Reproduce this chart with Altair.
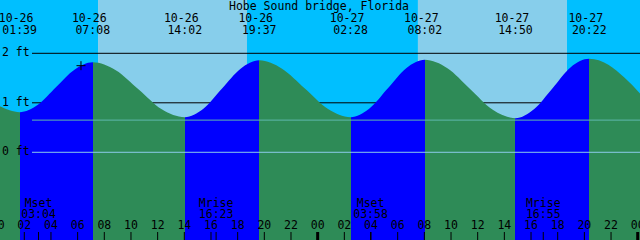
import altair as alt
import pandas as pd

# ---------------- data ----------------
T0, T1 = 0.178, 48.172          # visible time window, hours after 10-26 00:00
Y0, Y1 = -1.772, 3.077          # visible level window, ft

title_text = "Hobe Sound bridge, Florida"

# tide curve samples (hours after 10-26 00:00, feet)
tide_hours = [0.178, 0.90, 1.65, 3.02, 4.39, 5.76, 7.13, 8.86, 10.58, 12.31,
              14.03, 15.43, 16.83, 18.22, 19.62, 21.33, 23.04, 24.75, 26.47,
              27.86, 29.25, 30.64, 32.03, 33.73, 35.43, 37.13, 38.83, 40.22,
              41.60, 42.98, 44.37, 45.80, 47.00, 48.172]
tide_ft = [0.93, 0.85, 0.81, 0.96, 1.32, 1.67, 1.82, 1.66, 1.27, 0.87,
           0.71, 0.88, 1.29, 1.69, 1.86, 1.69, 1.29, 0.88, 0.71,
           0.88, 1.29, 1.70, 1.87, 1.70, 1.28, 0.86, 0.69, 0.87,
           1.29, 1.72, 1.89, 1.77, 1.51, 1.19]

# high / low tide events
event_dates = ["10-26", "10-26", "10-26", "10-26", "10-27", "10-27", "10-27", "10-27"]
event_times = ["01:39", "07:08", "14:02", "19:37", "02:28", "08:02", "14:50", "20:22"]
event_days = [0, 0, 0, 0, 1, 1, 1, 1]
event_kind = ["low", "high", "low", "high", "low", "high", "low", "high"]

# sunrise / sunset (hours) -> sky bands
sun_edges = [T0, 7.53, 18.70, 31.52, 42.69, T1]
sun_state = ["night", "day", "night", "day", "night"]

# moon events
moon_names = ["Mset", "Mrise", "Mset", "Mrise"]
moon_times = ["03:04", "16:23", "03:58", "16:55"]
moon_days = [0, 0, 1, 1]

grid_ft = [1, 2]
datum_ft = [0]
mean_ft = [0.65]
ylabel_ft = [0, 1, 2]
ylabel_txt = ["0 ft", "1 ft", "2 ft"]

hour_ticks = list(range(0, 49, 2))
now_hour, now_ft = 6.25, 1.75

# ---------------- styles ----------------
NIGHT, DAY = "#00BFFF", "#87CEEB"
FLOOD, EBB = "#0000FF", "#2E8B57"
DATUM_C, MEAN_C = "#8CCBEA", "#5FB8AE"
FONT, FS = "DejaVu Sans Mono", 11.5


def to_hours(s, day):
    h, m = s.split(":")
    return day * 24 + int(h) + int(m) / 60


event_hours = [to_hours(t, d) for t, d in zip(event_times, event_days)]
moon_hours = [to_hours(t, d) for t, d in zip(moon_times, moon_days)]

xs = alt.Scale(domain=[T0, T1], nice=False, zero=False)
ys = alt.Scale(domain=[Y0, Y1], nice=False, zero=False)
X = lambda f: alt.X(f, type="quantitative", scale=xs, axis=None)
Y = lambda f: alt.Y(f, type="quantitative", scale=ys, axis=None)

# sky
sky_df = pd.DataFrame({"start": sun_edges[:-1], "end": sun_edges[1:], "state": sun_state})
sky = alt.Chart(sky_df).mark_rect().encode(
    x=X("start"), x2="end",
    color=alt.Color("state:N", scale=alt.Scale(domain=["night", "day"], range=[NIGHT, DAY]), legend=None),
)

grid = alt.Chart(pd.DataFrame({"ft": grid_ft})).mark_rule(color="black", strokeWidth=1).encode(
    y=Y("ft"), x=alt.value(32), x2=alt.value(640))

# tide area, fill switches flood/ebb at each event
stops = []
col = EBB
stops.append(alt.GradientStop(color=col, offset=0))
for h, k in zip(event_hours, event_kind):
    off = (h - T0) / (T1 - T0)
    new = FLOOD if k == "low" else EBB
    stops.append(alt.GradientStop(color=col, offset=off))
    stops.append(alt.GradientStop(color=new, offset=off))
    col = new
stops.append(alt.GradientStop(color=col, offset=1))

tide_df = pd.DataFrame({"hour": tide_hours, "ft": tide_ft})
tide = alt.Chart(tide_df).mark_area(
    interpolate="monotone",
    color=alt.Gradient(gradient="linear", stops=stops, x1=0, x2=1, y1=0, y2=0),
).encode(
    x=X("hour"),
    y=alt.Y("ft", type="quantitative", scale=ys, axis=None, stack=None),
    y2=alt.datum(Y0),
)

datum = alt.Chart(pd.DataFrame({"ft": datum_ft})).mark_rule(color=DATUM_C, strokeWidth=1).encode(
    y=Y("ft"), x=alt.value(32), x2=alt.value(640))
mean = alt.Chart(pd.DataFrame({"ft": mean_ft})).mark_rule(color=MEAN_C, strokeWidth=1).encode(
    y=Y("ft"), x=alt.value(32), x2=alt.value(640))

now = alt.Chart(pd.DataFrame({"hour": [now_hour], "ft": [now_ft]})).mark_point(
    shape="M-1,0H1M0,-1V1", size=81, filled=False, color="black", strokeWidth=1, opacity=1
).encode(x=X("hour"), y=Y("ft"))

ylab = alt.Chart(pd.DataFrame({"ft": ylabel_ft, "t": ylabel_txt})).mark_text(
    font=FONT, fontSize=FS, align="left", baseline="middle", color="black"
).encode(x=alt.value(2), y=Y("ft"), text="t:N")

ev_df = pd.DataFrame({"hour": event_hours, "d": event_dates, "t": event_times})
ev_date = alt.Chart(ev_df).mark_text(font=FONT, fontSize=FS, align="center", baseline="alphabetic",
                                     color="black", dx=-3.5).encode(
    x=X("hour"), y=alt.value(21.7), text="d:N")
ev_time = alt.Chart(ev_df).mark_text(font=FONT, fontSize=FS, align="center", baseline="alphabetic",
                                     color="black").encode(
    x=X("hour"), y=alt.value(34), text="t:N")

title = alt.Chart(pd.DataFrame({"t": [title_text]})).mark_text(
    font=FONT, fontSize=FS, align="center", baseline="alphabetic", color="black"
).encode(x=alt.value(319), y=alt.value(10), text="t:N")

hr_df = pd.DataFrame({"hour": hour_ticks,
                      "lab": [f"{h % 24:02d}" for h in hour_ticks],
                      "mid": [h % 24 == 0 for h in hour_ticks]})
thin = alt.Chart(hr_df[~hr_df["mid"]]).mark_rule(color="black", strokeWidth=1).encode(
    x=X("hour"), y=alt.value(232), y2=alt.value(240))
thick = alt.Chart(hr_df[hr_df["mid"]]).mark_rule(color="black", strokeWidth=3).encode(
    x=X("hour"), y=alt.value(232), y2=alt.value(240))
hr_lab = alt.Chart(hr_df).mark_text(font=FONT, fontSize=FS, align="center", baseline="alphabetic",
                                    color="black").encode(
    x=X("hour"), y=alt.value(229.3), text="lab:N")

mo_df = pd.DataFrame({"hour": moon_hours, "n": moon_names, "t": moon_times})
mo_tick = alt.Chart(mo_df).mark_rule(color="black", strokeWidth=1).encode(
    x=X("hour"), y=alt.value(232), y2=alt.value(240))
mo_name = alt.Chart(mo_df).mark_text(font=FONT, fontSize=FS, align="center", baseline="alphabetic",
                                     color="black").encode(
    x=X("hour"), y=alt.value(207), text="n:N")
mo_time = alt.Chart(mo_df).mark_text(font=FONT, fontSize=FS, align="center", baseline="alphabetic",
                                     color="black").encode(
    x=X("hour"), y=alt.value(218.3), text="t:N")

chart = alt.layer(
    sky, grid, tide, datum, mean, now, ylab, ev_date, ev_time, title,
    thin, thick, hr_lab, mo_tick, mo_name, mo_time
).properties(
    width=640, height=240, padding=0, autosize=alt.AutoSizeParams(type="none")
).configure_view(stroke=None)

chart.save("out.html", embed_options={"renderer": "svg", "actions": False})
